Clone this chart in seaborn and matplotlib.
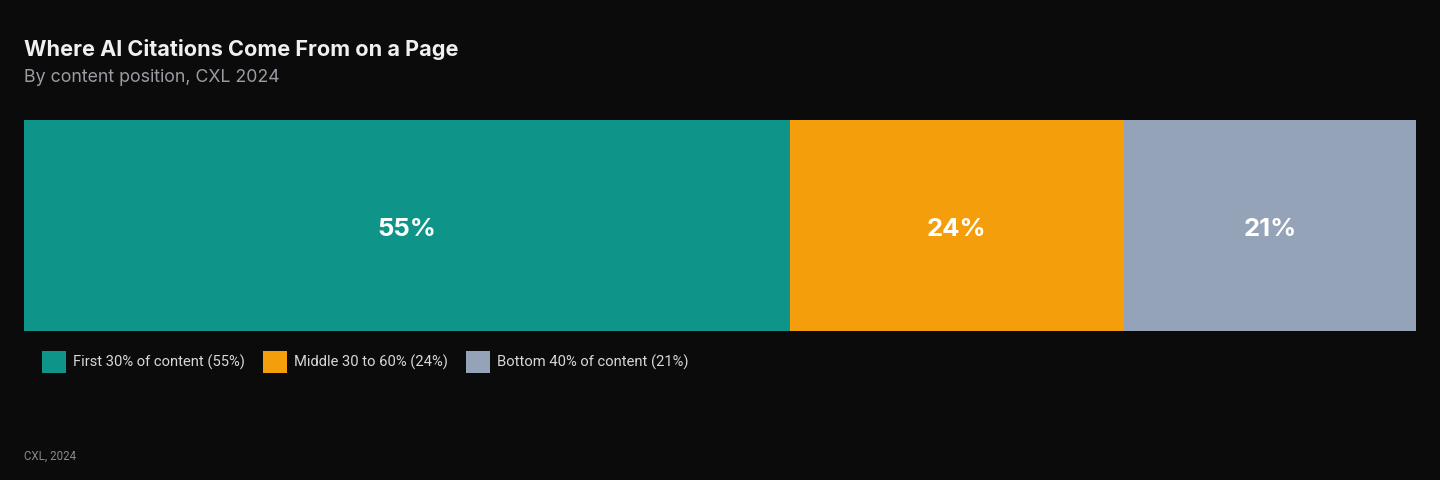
import matplotlib
matplotlib.use("Agg")
import matplotlib.pyplot as plt
from matplotlib.patches import Patch
import seaborn as sns
import numpy as np

# Data
segments = ["First 30% of content", "Middle 30 to 60%", "Bottom 40% of content"]
shares = [55, 24, 21]
colors = ["#0e9488", "#f59e0b", "#94a3b8"]

bg = "#0b0b0b"
sns.set_theme(style="white")
plt.rcParams["font.family"] = ["Inter", "DejaVu Sans"]

fig = plt.figure(figsize=(14.4, 4.8), dpi=100, facecolor=bg)
ax = fig.add_axes([24 / 1440, 1 - 331 / 480, 1392 / 1440, 211 / 480])
ax.set_facecolor(bg)

# stacked bar: draw cumulative totals from longest to shortest
cum = np.cumsum(shares)
for i in range(len(shares) - 1, -1, -1):
    sns.barplot(x=[cum[i]], y=["all"], color=colors[i], width=1.0,
                orient="h", saturation=1, ax=ax, linewidth=0)

starts = cum - np.array(shares)
for s, v in zip(starts, shares):
    ax.text(s + v / 2, 0.02, f"{v}%", ha="center", va="center",
            color="white", fontsize=18.5, fontweight="bold")

ax.set_xlim(0, 100)
ax.set_ylim(0.5, -0.5)
ax.axis("off")

fig.text(24 / 1440, 1 - 49 / 480, "Where AI Citations Come From on a Page",
         color="#f0f0f0", fontsize=15.6, fontweight="bold", va="center")
fig.text(24 / 1440, 1 - 77 / 480, "By content position, CXL 2024",
         color="#9a9ca3", fontsize=12.8, va="center")
fig.text(24 / 1440, 1 - 456 / 480, "CXL, 2024", color="#8a8a8a",
         fontsize=8.3, va="center", family=["Roboto", "DejaVu Sans"])

handles = [Patch(facecolor=c, edgecolor="none") for c in colors]
labels = [f"{n} ({v}%)" for n, v in zip(segments, shares)]
leg = fig.legend(handles, labels, loc="center left",
                 bbox_to_anchor=(42 / 1440, 1 - 362 / 480), ncol=3,
                 frameon=False, handlelength=1.65,
                 handleheight=2.0, handletextpad=0.48, columnspacing=1.2,
                 borderaxespad=0, borderpad=0,
                 prop={"family": ["Roboto", "DejaVu Sans"], "size": 10.6})
for t in leg.get_texts():
    t.set_color("#d8d8d8")

fig.savefig("out.png", dpi=100, facecolor=bg)
